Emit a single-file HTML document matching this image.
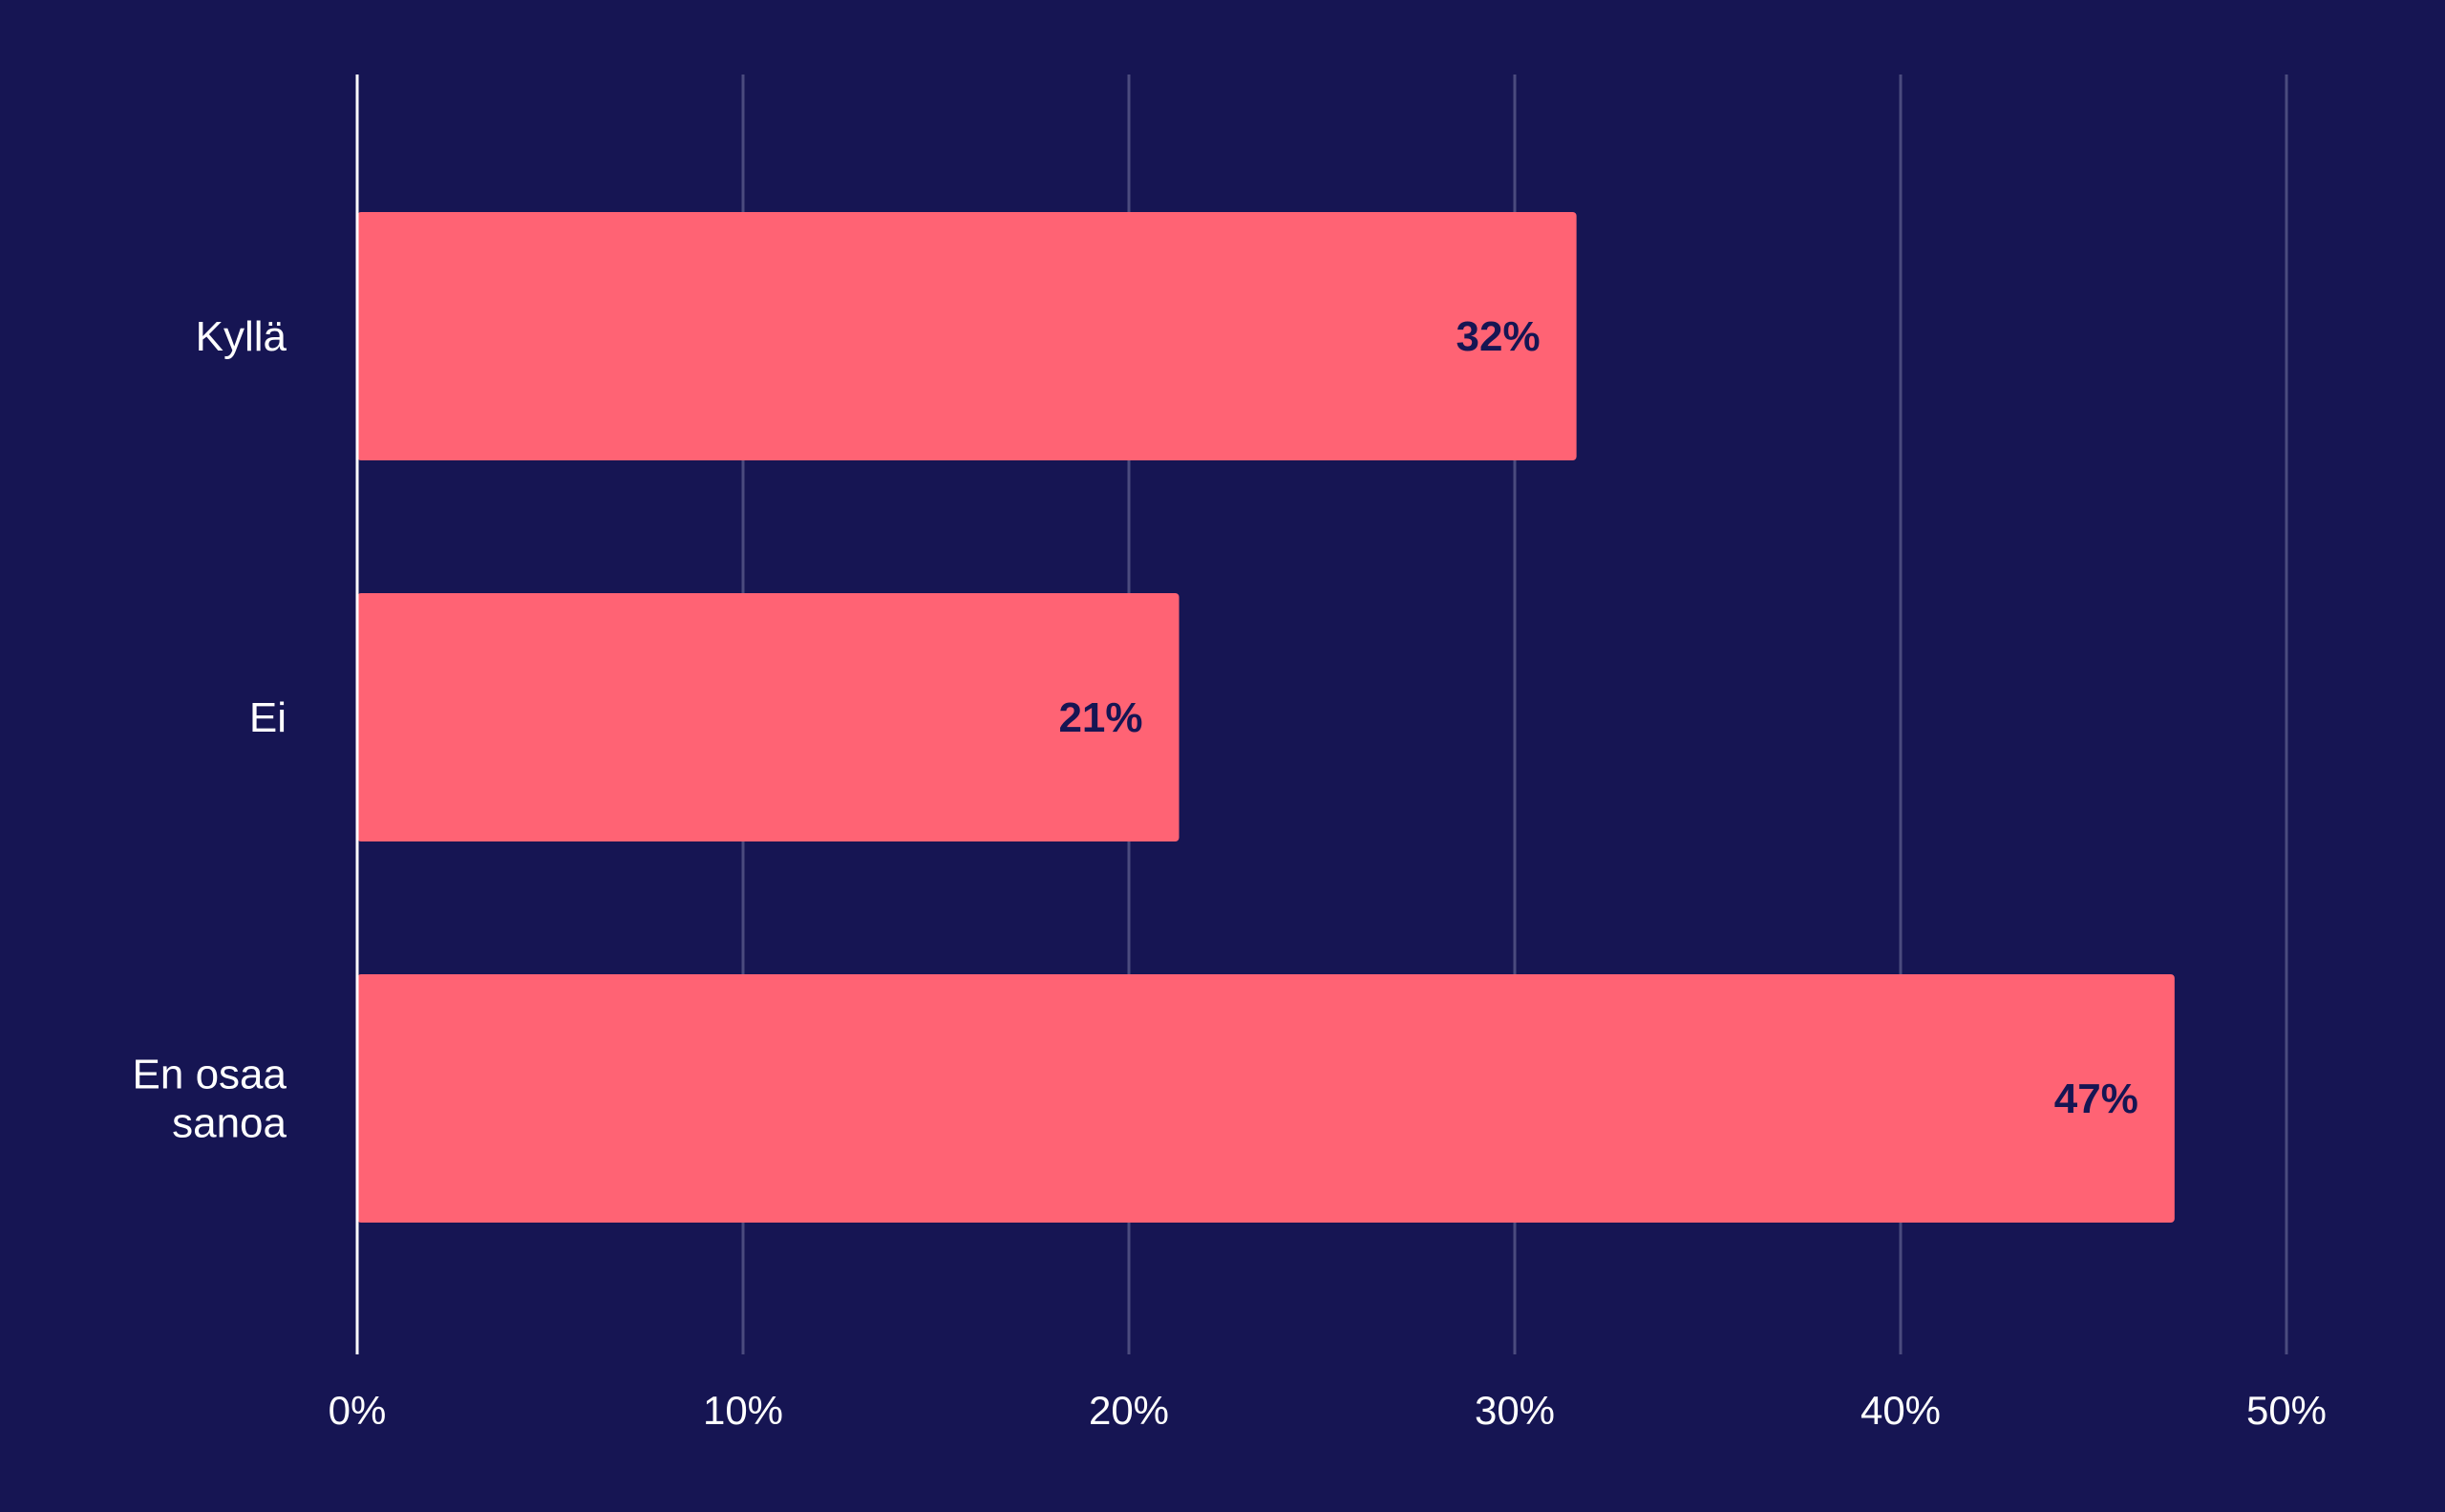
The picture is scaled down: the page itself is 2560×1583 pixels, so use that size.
<!DOCTYPE html>
<html><head><meta charset="utf-8"><style>
html,body{margin:0;padding:0;background:#161553;}
svg{display:block}
text{font-family:"Liberation Sans",sans-serif;}
</style></head><body>
<svg id="chart" width="2560" height="1583" viewBox="0 0 2560 1583" xmlns="http://www.w3.org/2000/svg">
<rect width="2560" height="1583" fill="#161553"/>
<g id="grid"></g><g id="bars"></g><g id="labels"></g>
</svg>
<script>
const categories = [["Kyllä"], ["Ei"], ["En osaa", "sanoa"]];
const values = [31.6, 21.3, 47.1];
const valueLabels = ["32%", "21%", "47%"];
const tickValues = [0, 10, 20, 30, 40, 50];
const tickLabels = ["0%", "10%", "20%", "30%", "40%", "50%"];

const NS = "http://www.w3.org/2000/svg";
const x0 = 374, pxPer = 40.4;
const xScale = v => x0 + v * pxPer;
const firstCenter = 352, step = 399, barH = 260;
const yScale = i => firstCenter + i * step;
function mk(tag, attrs, parent) {
  const e = document.createElementNS(NS, tag);
  for (const k in attrs) e.setAttribute(k, attrs[k]);
  parent.appendChild(e);
  return e;
}
const grid = document.getElementById('grid');
const bars = document.getElementById('bars');
const labels = document.getElementById('labels');

tickValues.forEach((t, i) => {
  if (t !== 0) {
    const l = mk('line', {x1: xScale(t), x2: xScale(t), y1: 78, y2: 1418, stroke: '#4b4b7e', 'stroke-width': 3}, grid);
    
    
  }
  const tx = mk('text', {x: xScale(t), y: 1491, 'text-anchor': 'middle', fill: '#ffffff', 'font-size': 42}, labels);
  tx.textContent = tickLabels[i];
  
  
});

values.forEach((v, i) => {
  const cy = yScale(i);
  const r = mk('rect', {x: x0, y: cy - barH / 2, width: xScale(v) - x0, height: barH, rx: 4, fill: '#ff6374'}, bars);
  
  
  const vl = mk('text', {x: xScale(v) - 38, y: cy + 15, 'text-anchor': 'end', fill: '#161553', 'font-size': 44, 'font-weight': 'bold'}, labels);
  vl.textContent = valueLabels[i];
  
  
  const lines = categories[i];
  lines.forEach((s, j) => {
    const cl = mk('text', {x: 300, y: cy + 15 + (j - (lines.length - 1) / 2) * 51, 'text-anchor': 'end', fill: '#ffffff', 'font-size': 44}, labels);
    cl.textContent = s;
    
    
  });
});

const ax = mk('line', {x1: x0, x2: x0, y1: 78, y2: 1418, stroke: '#ffffff', 'stroke-width': 3}, labels);


</script>
</body></html>
